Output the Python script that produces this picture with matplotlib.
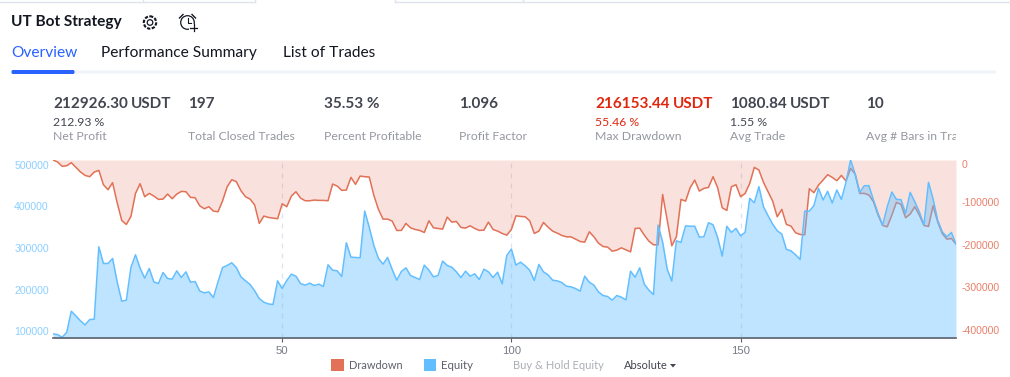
import matplotlib
matplotlib.use('Agg')
from matplotlib import pyplot as plt
from matplotlib.patches import Rectangle, Circle, FancyBboxPatch
import numpy as np

# values, one trade per entry, in thousands of USDT
drawdown = [
    0, -4.7, -14.9, -13.4, -6.3, -17.3, -28.3, -36.2, -39.3, -28.3,
    -24.4, -58.2, -70, -53.4, -100.6, -142.3, -151.7, -132.8, -78.6, -55.8,
    -86.5, -78.6, -84.9, -92.7, -92, -80.2, -91.2, -80.2, -73.9, -74.7,
    -88, -88.8, -107.7, -114.8, -110, -120.3, -121.8, -95.9, -62.9, -46.4,
    -51.1, -72.3, -86.5, -92, -106.1, -149.3, -132, -135.2, -136.8, -138.3,
    -103, -110, -84.9, -74.7, -89.6, -95.9, -95.9, -94.3, -95.1, -95.1,
    -95.9, -56.6, -61.3, -71.5, -70.7, -40.9, -57.4, -37.7, -39.3, -40.1,
    -83.3, -116.3, -139.1, -139.1, -143.8, -165.8, -165.8, -149.3, -159.6, -163.5,
    -165.8, -170.6, -143.1, -159.6, -161.1, -162.7, -134.4, -146.2, -144.6, -158.8,
    -160.3, -154.8, -161.1, -165.8, -165.1, -146.2, -163.5, -167.4, -172.9, -176.9,
    -163.5, -131.3, -132.8, -133.6, -143.1, -172.9, -167.4, -147, -158, -167.4,
    -172.1, -177.6, -180.8, -180.8, -186.3, -191.8, -193.4, -169, -180.8, -195.7,
    -203.6, -205.1, -214.6, -212.2, -206.7, -211.4, -216.2, -161.1, -160.3, -176.9,
    -191, -199.6, -199.6, -81, -141.5, -202, -180.8, -92.7, -96.7, -65.2,
    -47.2, -73.1, -66.8, -64.5, -39.3, -65.2, -112.4, -118.7, -62.9, -58.2,
    -86.5, -78.6, -55, -17.3, -23.6, -52.7, -74.7, -96.7, -133.6, -116.3,
    -151.7, -155.6, -171.3, -175.3, -176.1, -67.6, -77, -59, -47.2, -34.6,
    -40.9, -48.7, -36.2, -49.5, -19.7, -33, -78.6, -78.6, -82.5, -98.3,
    -129.7, -154.1, -157.2, -129.7, -99.8, -104.5, -136, -127.3, -110, -129.7,
    -154.1, -156.4, -107.7, -145.4, -172.9, -186.3, -184.7, -198.1,
]
equity = [
    93.8, 92.1, 85.7, 97.8, 148.2, 137, 125, 115.4, 128.2, 129,
    302.8, 262.8, 262.8, 274.8, 218.7, 172.2, 174.6, 253.1, 283.6, 251.5,
    227.5, 250.7, 218.7, 214.7, 241.1, 226.7, 225.1, 245.1, 229.1, 242.7,
    217.9, 219.5, 197.1, 192.3, 194.7, 181.1, 218.7, 253.1, 258, 264.4,
    253.1, 230.7, 221.1, 212.3, 197.1, 178.7, 169.8, 165.8, 164.2, 221.1,
    202.7, 221.9, 237.1, 232.3, 214.7, 210.7, 215.5, 209.9, 213.1, 207.5,
    259.6, 246.7, 245.1, 231.5, 312.4, 278, 277.2, 276.4, 388.5, 349.3,
    306, 274.8, 261.2, 277.2, 248.3, 222.7, 243.5, 252.4, 233.9, 229.1,
    224.3, 258.8, 246.7, 230.7, 233.9, 268.4, 258, 253.9, 242.7, 229.1,
    244.3, 232.3, 237.9, 224.3, 249.1, 242.7, 229.1, 241.9, 213.9, 282,
    297.2, 258.8, 266, 257.2, 246.7, 221.9, 260.4, 242.7, 235.5, 222.7,
    221.1, 217.1, 208.3, 206.7, 202.7, 196.3, 232.3, 217.9, 210.7, 194.7,
    185.9, 183.5, 174.7, 185.9, 181.9, 175.4, 244.3, 229.9, 252.3, 213.1,
    198.7, 188.3, 354.9, 314, 249.1, 220.3, 317.2, 313.2, 352.9, 352.1,
    352.1, 326, 326.8, 360.5, 355.7, 325.2, 280.4, 352.1, 337.3, 346.9,
    329.2, 337.3, 418.9, 408.5, 447, 398.9, 377.3, 357.3, 341.3, 333.2,
    296.4, 293.2, 283.6, 272.4, 388.5, 388.5, 401.3, 443, 415, 435.8,
    407.7, 439, 416.6, 457.4, 511, 477.4, 433.4, 449.4, 449.4, 415,
    382.9, 354.9, 398.9, 434.2, 416.6, 415.8, 382.9, 433.4, 411, 386.9,
    354.9, 457.4, 417.4, 366.9, 338.9, 326.8, 337.3, 309.2,
]
trade_ticks = [50, 100, 150]
equity_ticks = [100000, 200000, 300000, 400000, 500000]
drawdown_ticks = [0, -100000, -200000, -300000, -400000]

metric_values = ['212926.30', '197', '35.53 %', '1.096', '216153.44', '1080.84', '10']
metric_units = ['USDT', '', '', '', 'USDT', 'USDT', '']
metric_percents = ['212.93 %', '', '', '', '55.46 %', '1.55 %', '']
metric_names = ['Net Profit', 'Total Closed Trades', 'Percent Profitable', 'Profit Factor',
                'Max Drawdown', 'Avg Trade', 'Avg # Bars in Trade']

RED = '#E27157'
BLUE = '#62BEFF'
DARK = '#131722'
AXIS_FONT = 'Liberation Sans'
plt.rcParams['font.family'] = 'Lato'

W, H = 1010, 377
fig = plt.figure(figsize=(W / 100, H / 100), dpi=100)

# page furniture goes on a full size axes counted in pixels
page = fig.add_axes([0, 0, 1, 1])
page.set_xlim(0, W)
page.set_ylim(H, 0)
page.axis('off')

page.plot([0, 255], [1.5, 1.5], color='#E0E3EB', lw=1)
page.plot([395, W], [1.5, 1.5], color='#E0E3EB', lw=1)
for tab_edge in [143, 255, 395, 523]:
    page.plot([tab_edge, tab_edge], [0, 1.5], color='#E0E3EB', lw=1)
page.text(11, 22, 'UT Bot Strategy', fontsize=11.1, fontweight='bold', color=DARK, va='center')

# gear and alarm icons
page.add_patch(Circle((150, 22.5), 2.8, fc='none', ec=DARK, lw=0.9))
page.add_patch(Circle((150, 22.5), 6.2, fc='none', ec=DARK, lw=1.5, ls=(0, (1.6, 0.7))))
page.add_patch(Circle((187.5, 22.5), 6.8, fc='none', ec=DARK, lw=0.9))
page.plot([187.5, 187.5, 191], [18, 23, 23], color=DARK, lw=0.8)
page.plot([179.5, 183], [18, 14.5], color=DARK, lw=1)
page.plot([192, 195.5], [14.5, 18], color=DARK, lw=1)
page.add_patch(Rectangle((189, 24), 9, 9, fc='white', ec='none', zorder=3))
page.plot([190, 197], [27.8, 27.8], color=DARK, lw=0.9, zorder=4)
page.plot([193.5, 193.5], [24.3, 31.3], color=DARK, lw=0.9, zorder=4)

page.text(11, 53, 'Overview', fontsize=11.15, color='#2962FF', va='center')
page.text(101, 53, 'Performance Summary', fontsize=11.15, color=DARK, va='center')
page.text(283, 53, 'List of Trades', fontsize=11.15, color=DARK, va='center')
page.add_patch(FancyBboxPatch((13, 70.5), 996 - 13, 3, boxstyle='round,pad=0,rounding_size=1.5', fc='#F0F3FA', ec='none'))
page.add_patch(FancyBboxPatch((11.5, 70), 63, 4, boxstyle='round,pad=0,rounding_size=1.5', fc='#2962FF', ec='none'))

metric_x = [53, 188, 324, 459, 595, 730, 866]
for i, name in enumerate(metric_names):
    col = '#E0260F' if i == 4 else '#434651'
    t = page.text(metric_x[i], 104.5, metric_values[i], fontsize=11, fontweight='bold', color=col, va='center')
    if metric_units[i]:
        bb = t.get_window_extent(fig.canvas.get_renderer())
        page.text(bb.x1 + 3, 104.5, metric_units[i], fontsize=11, fontweight='bold', color=col, va='center')
    if metric_percents[i]:
        page.text(metric_x[i], 122, metric_percents[i], fontsize=8.8,
                  color='#E0260F' if i == 4 else '#434651', va='center')
    t = page.text(metric_x[i], 136, name, fontsize=8.8, color='#9598A1', va='center', clip_on=True)
    t.set_clip_path(Rectangle((0, 0), 956, H, transform=page.transData))

# legend row
page.add_patch(Rectangle((331, 359), 13, 12, fc=RED, ec='none'))
page.text(349, 365.5, 'Drawdown', fontsize=7.9, color='#5D606B', va='center')
page.add_patch(Rectangle((424, 359), 12, 12, fc=BLUE, ec='none'))
page.text(441, 365.5, 'Equity', fontsize=8.2, color='#5D606B', va='center')
page.text(513, 365.5, 'Buy & Hold Equity', fontsize=8, color='#ABAEB5', va='center')
page.text(624, 365.5, 'Absolute', fontsize=8, color='#434651', va='center')
page.fill([670, 676, 673], [364, 364, 367.5], color='#434651', lw=0)

# chart area
box = [53 / W, 1 - 338 / H, (956 - 53) / W, (338 - 160) / H]
ax = fig.add_axes(box)
ax.patch.set_alpha(0)
trades = np.arange(len(equity))
dd_usdt = np.array(drawdown) * 1000
eq_usdt = np.array(equity) * 1000

ax.fill_between(trades, dd_usdt, 0, color=RED, alpha=0.2, lw=0)
ax.plot(trades, dd_usdt, color=RED, lw=1.1)
ax.set_xlim(0, trades[-1])
ax.set_ylim(-419000, 0)
ax.set_xticks(trade_ticks)
ax.set_xticklabels(trade_ticks, fontsize=8.2, color='#787B86', family=AXIS_FONT)
ax.tick_params(axis='x', length=3, color='#5D606B', pad=3)
for side in ['top', 'left', 'right', 'bottom']:
    ax.spines[side].set_visible(False)
for tick in trade_ticks:
    ax.axvline(tick, color='#DDE3F0', lw=0.9, ls=(0, (4, 4)), zorder=0)

ax2 = ax.twinx()
ax2.fill_between(trades, eq_usdt, 84000, color=BLUE, alpha=0.41, lw=0)
ax2.plot(trades, eq_usdt, color=BLUE, lw=1.1)
ax2.set_ylim(84000, 511000)
ax2.yaxis.tick_left()
ax2.set_yticks(equity_ticks)
ax2.set_yticklabels(equity_ticks, fontsize=7.6, color='#8CCFFF', family=AXIS_FONT)
ax2.tick_params(axis='y', length=0, pad=3)
for side in ['top', 'left', 'right']:
    ax2.spines[side].set_visible(False)
ax2.spines['bottom'].set_color('#5D606B')
ax2.spines['bottom'].set_linewidth(1.2)

# twinx moved these to the left, so set them after it
ax.yaxis.tick_right()
ax.set_yticks(drawdown_ticks)
ax.set_yticklabels(drawdown_ticks, fontsize=7.6, color='#E8806A', family=AXIS_FONT)
ax.tick_params(axis='y', length=0, pad=4)
ax.get_yticklabels()[0].set_va('top')

fig.savefig('out.png', dpi=100)
plt.close()
